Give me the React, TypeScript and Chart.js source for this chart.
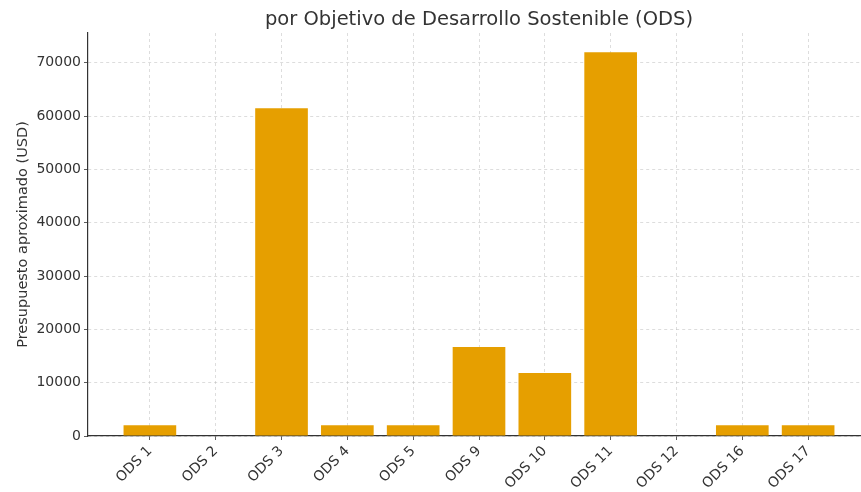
import React, { useEffect, useRef } from "react";
import { Chart, registerables } from "chart.js";

Chart.register(...registerables);

const categories = ["ODS 1", "ODS 2", "ODS 3", "ODS 4", "ODS 5", "ODS 9", "ODS 10", "ODS 11", "ODS 12", "ODS 16", "ODS 17"];
const budgets = [2000, 0, 61500, 2000, 2000, 16700, 11800, 72000, 0, 2000, 2000];
const yTicks = [0, 10000, 20000, 30000, 40000, 50000, 60000, 70000];
const titleText = "por Objetivo de Desarrollo Sostenible (ODS)";
const yTitle = "Presupuesto aproximado (USD)";

const FONT = "'DejaVu Sans', sans-serif";
const TEXT = "#333333";
const GRID = "rgba(176,176,176,0.55)";

export default function App() {
  const ref = useRef<HTMLCanvasElement | null>(null);

  useEffect(() => {
    if (!ref.current) return;
    const chart = new Chart(ref.current, {
      type: "bar",
      data: {
        datasets: [
          {
            data: budgets.map((v, i) => ({ x: i, y: v })),
            backgroundColor: "#E69F00",
            borderWidth: 0,
            categoryPercentage: 1,
            barPercentage: 0.8,
          },
        ],
      },
      options: {
        responsive: false,
        animation: false,
        layout: { padding: { left: 0, right: 0, top: 0, bottom: 0 } },
        plugins: {
          legend: { display: false },
          tooltip: { enabled: false },
          title: {
            display: true,
            fullSize: false,
            text: titleText,
            color: TEXT,
            font: { family: FONT, size: 19.5, weight: "normal" },
            padding: { top: 8, bottom: 1.6 },
          },
        },
        scales: {
          x: {
            type: "linear",
            min: -0.94,
            max: 10.94,
            offset: false,
            z: 1,
            afterBuildTicks: (scale: any) => {
              scale.ticks = categories.map((_, i) => ({ value: i }));
            },
            afterFit: (scale: any) => {
              scale.height = 56;
            },
            ticks: {
              autoSkip: false,
              minRotation: 45,
              maxRotation: 45,
              padding: 3,
              color: TEXT,
              font: { family: FONT, size: 14 },
              callback: (v: any) => categories[Math.round(Number(v))] ?? "",
            },
            grid: {
              offset: false,
              color: GRID,
              lineWidth: 0.8,
              tickLength: 4,
              tickColor: "#333333",
              drawTicks: true,
            },
            border: { display: true, color: "#333333", width: 1.2, dash: [3, 3] },
          },
          y: {
            min: 0,
            max: 75600,
            z: 1,
            afterBuildTicks: (scale: any) => {
              scale.ticks = yTicks.map((v) => ({ value: v }));
            },
            afterFit: (scale: any) => {
              scale.width = 88;
            },
            ticks: {
              padding: 3,
              color: TEXT,
              font: { family: FONT, size: 14 },
              callback: (v: any) => String(v),
            },
            grid: {
              color: GRID,
              lineWidth: 0.8,
              tickLength: 4,
              tickColor: "#333333",
            },
            border: { display: true, color: "#333333", width: 1.2, dash: [3, 3] },
            title: {
              display: true,
              text: yTitle,
              color: TEXT,
              font: { family: FONT, size: 14.5 },
              padding: { top: 15, bottom: 0 },
            },
          },
        },
      } as any,
    });
    return () => chart.destroy();
  }, []);

  return (
    <div style={{ position: "absolute", left: 0, top: 0, width: 861, height: 492, overflow: "hidden", background: "#fff" }}>
      <canvas ref={ref} width={870} height={492} />
    </div>
  );
}
